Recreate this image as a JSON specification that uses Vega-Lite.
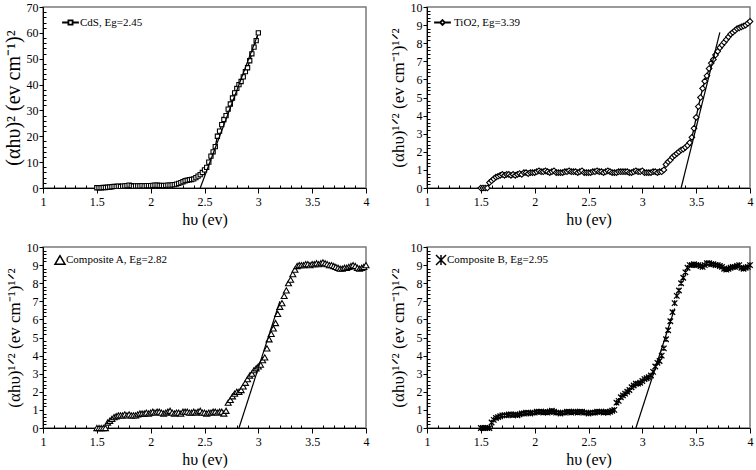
{
  "$schema": "https://vega.github.io/schema/vega-lite/v6.json",
  "background": "white",
  "padding": {"left": 2, "top": 0, "right": 2, "bottom": 0},
  "config": {
    "view": {"stroke": "#7a7a7a", "strokeWidth": 1.5},
    "font": "Liberation Serif",
    "style": {"guide-title": {"font": "Liberation Serif", "fontWeight": "normal", "fontSize": 16}, "guide-label": {"font": "Liberation Serif", "fontSize": 12}},
    "axis": {"labelFont": "Liberation Serif", "labelFontSize": 12, "labelColor": "black", "titleFont": "Liberation Serif", "titleFontSize": 16, "titleFontWeight": "normal", "titleColor": "black", "domainColor": "black", "domainWidth": 1, "tickColor": "black", "grid": false, "labelOverlap": false, "labelFlush": false},
    "axisY": {"titleFontSize": 17},
    "legend": {"labelFont": "Liberation Serif", "labelFontSize": 11, "labelColor": "black", "padding": 0}
  },
  "columns": 2,
  "spacing": {"row": 59, "column": 61},
  "bounds": "flush",
  "resolve": {"scale": {"x": "independent", "y": "independent", "shape": "independent", "color": "independent"}, "legend": {"shape": "independent", "color": "independent"}},
  "concat": [
    {
      "width": 323, "height": 181,
      "data": {"values": [
        {"x":1.50,"y":0.1},{"x":1.52,"y":0.1},{"x":1.54,"y":0.1},{"x":1.56,"y":0.2},{"x":1.58,"y":0.2},{"x":1.60,"y":0.3},{"x":1.62,"y":0.4},{"x":1.64,"y":0.5},{"x":1.66,"y":0.6},{"x":1.68,"y":0.6},
        {"x":1.70,"y":0.7},{"x":1.72,"y":0.6},{"x":1.74,"y":0.7},{"x":1.76,"y":0.8},{"x":1.78,"y":0.9},{"x":1.80,"y":1.1},{"x":1.82,"y":0.9},{"x":1.84,"y":0.7},{"x":1.86,"y":0.8},{"x":1.88,"y":0.8},
        {"x":1.90,"y":0.8},{"x":1.92,"y":0.9},{"x":1.94,"y":0.8},{"x":1.96,"y":0.9},{"x":1.98,"y":0.9},{"x":2.00,"y":0.9},{"x":2.02,"y":1.0},{"x":2.04,"y":1.1},{"x":2.06,"y":1.1},{"x":2.08,"y":1.0},
        {"x":2.10,"y":1.0},{"x":2.12,"y":0.9},{"x":2.14,"y":1.0},{"x":2.16,"y":1.1},{"x":2.18,"y":1.1},{"x":2.20,"y":1.2},{"x":2.22,"y":1.3},{"x":2.24,"y":1.5},{"x":2.26,"y":1.8},{"x":2.28,"y":2.1},
        {"x":2.30,"y":2.4},{"x":2.32,"y":2.8},{"x":2.34,"y":3.0},{"x":2.36,"y":3.2},{"x":2.38,"y":3.3},{"x":2.40,"y":3.5},{"x":2.42,"y":4.0},{"x":2.44,"y":4.6},{"x":2.46,"y":5.2},{"x":2.48,"y":6.0},
        {"x":2.50,"y":7.0},{"x":2.52,"y":8.0},{"x":2.54,"y":10.0},{"x":2.56,"y":12.3},{"x":2.58,"y":14.0},{"x":2.60,"y":16.0},{"x":2.62,"y":20.0},{"x":2.64,"y":22.0},{"x":2.66,"y":24.5},{"x":2.68,"y":26.5},
        {"x":2.70,"y":28.0},{"x":2.72,"y":30.5},{"x":2.74,"y":32.5},{"x":2.76,"y":34.8},{"x":2.78,"y":36.8},{"x":2.80,"y":38.5},{"x":2.82,"y":40.0},{"x":2.84,"y":41.2},{"x":2.86,"y":43.0},{"x":2.88,"y":45.0},
        {"x":2.90,"y":46.5},{"x":2.92,"y":49.2},{"x":2.94,"y":51.9},{"x":2.96,"y":54.5},{"x":2.98,"y":57.0},{"x":3.00,"y":60.0}
      ]},
      "encoding": {
        "x": {"field": "x", "type": "quantitative", "scale": {"domain": [1, 4], "nice": false, "zero": false},
          "axis": {"title": "hυ (ev)", "values": [1,1.1,1.2,1.3,1.4,1.5,1.6,1.7,1.8,1.9,2,2.1,2.2,2.3,2.4,2.5,2.6,2.7,2.8,2.9,3,3.1,3.2,3.3,3.4,3.5,3.6,3.7,3.8,3.9,4], "format": "~g",
            "labelExpr": "abs(datum.value*2-round(datum.value*2))<0.001 ? datum.label : ''",
            "tickSize": {"condition": {"test": "abs(datum.value*2-round(datum.value*2))<0.001", "value": 5}, "value": -3}, "labelPadding": 3, "titlePadding": 4}},
        "y": {"field": "y", "type": "quantitative", "scale": {"domain": [0, 70], "nice": false},
          "axis": {"title": "(αhυ)² (ev cm⁻¹)²", "titleFontSize": 20, "format": "~g", "values": [0,2,4,6,8,10,12,14,16,18,20,22,24,26,28,30,32,34,36,38,40,42,44,46,48,50,52,54,56,58,60,62,64,66,68,70],
            "labelExpr": "datum.value % 10 === 0 ? datum.label : ''",
            "tickSize": {"condition": {"test": "datum.value % 10 === 0", "value": 4}, "value": -3}, "labelPadding": 1, "titlePadding": 3}}
      },
      "layer": [
        {"mark": {"type": "line", "strokeWidth": 1.3},
          "encoding": {"color": {"datum": "CdS, Eg=2.45", "scale": {"range": ["black"]},
            "legend": {"orient": "top-left", "title": null, "offset": 10, "symbolOffset": 12, "labelOffset": 4,
              "symbolType": "M-2.8,0H-0.7M0.7,0H2.8M-0.7,-0.7H0.7V0.7H-0.7Z", "symbolSize": 36, "symbolStrokeWidth": 1.8, "symbolStrokeColor": "black", "symbolFillColor": "white"}}}},
        {"mark": {"type": "point", "shape": "square", "filled": false, "fill": "white", "stroke": "black", "strokeWidth": 1.1, "size": 18, "opacity": 1}},
        {"data": {"values": [{"x": 2.46, "y": 0}, {"x": 2.99, "y": 58.8}]}, "mark": {"type": "line", "color": "black", "strokeWidth": 1.2}}
      ]
    },
    {
      "width": 323, "height": 181,
      "data": {"values": [
        {"x":1.50,"y":0},{"x":1.52,"y":0},{"x":1.54,"y":0},{"x":1.56,"y":0},{"x":1.58,"y":0.3},{"x":1.60,"y":0.4},{"x":1.62,"y":0.5},{"x":1.64,"y":0.6},{"x":1.66,"y":0.65},{"x":1.68,"y":0.7},
        {"x":1.70,"y":0.75},{"x":1.72,"y":0.7},{"x":1.74,"y":0.75},{"x":1.76,"y":0.75},{"x":1.78,"y":0.7},{"x":1.80,"y":0.75},{"x":1.82,"y":0.7},{"x":1.84,"y":0.75},{"x":1.86,"y":0.8},{"x":1.88,"y":0.75},
        {"x":1.90,"y":0.85},{"x":1.92,"y":0.85},{"x":1.94,"y":0.8},{"x":1.96,"y":0.85},{"x":1.98,"y":0.85},{"x":2.00,"y":0.85},{"x":2.02,"y":0.9},{"x":2.04,"y":0.95},{"x":2.06,"y":0.9},{"x":2.08,"y":0.9},
        {"x":2.10,"y":0.95},{"x":2.12,"y":0.9},{"x":2.14,"y":0.85},{"x":2.16,"y":0.9},{"x":2.18,"y":0.95},{"x":2.20,"y":0.85},{"x":2.22,"y":0.85},{"x":2.24,"y":0.85},{"x":2.26,"y":0.85},{"x":2.28,"y":0.9},
        {"x":2.30,"y":0.9},{"x":2.32,"y":0.95},{"x":2.34,"y":0.9},{"x":2.36,"y":0.9},{"x":2.38,"y":0.9},{"x":2.40,"y":0.85},{"x":2.42,"y":0.9},{"x":2.44,"y":0.95},{"x":2.46,"y":0.85},{"x":2.48,"y":0.85},
        {"x":2.50,"y":0.85},{"x":2.52,"y":0.85},{"x":2.54,"y":0.9},{"x":2.56,"y":0.9},{"x":2.58,"y":0.95},{"x":2.60,"y":0.9},{"x":2.62,"y":0.9},{"x":2.64,"y":0.85},{"x":2.66,"y":0.9},{"x":2.68,"y":0.95},
        {"x":2.70,"y":0.9},{"x":2.72,"y":0.85},{"x":2.74,"y":0.85},{"x":2.76,"y":0.85},{"x":2.78,"y":0.9},{"x":2.80,"y":0.9},{"x":2.82,"y":0.9},{"x":2.84,"y":0.9},{"x":2.86,"y":0.9},{"x":2.88,"y":0.85},
        {"x":2.90,"y":0.85},{"x":2.92,"y":0.9},{"x":2.94,"y":0.95},{"x":2.96,"y":0.9},{"x":2.98,"y":0.9},{"x":3.00,"y":0.95},{"x":3.02,"y":0.85},{"x":3.04,"y":0.85},{"x":3.06,"y":0.85},{"x":3.08,"y":0.85},
        {"x":3.10,"y":0.9},{"x":3.12,"y":0.9},{"x":3.14,"y":0.85},{"x":3.16,"y":0.9},{"x":3.18,"y":0.9},{"x":3.20,"y":1.0},{"x":3.22,"y":1.3},{"x":3.24,"y":1.45},{"x":3.26,"y":1.55},{"x":3.28,"y":1.7},
        {"x":3.30,"y":1.8},{"x":3.32,"y":1.9},{"x":3.34,"y":2.0},{"x":3.36,"y":2.1},{"x":3.38,"y":2.15},{"x":3.40,"y":2.25},{"x":3.42,"y":2.35},{"x":3.44,"y":2.5},{"x":3.46,"y":2.8},{"x":3.48,"y":3.3},
        {"x":3.50,"y":3.9},{"x":3.52,"y":4.5},{"x":3.54,"y":5.0},{"x":3.56,"y":5.5},{"x":3.58,"y":5.9},{"x":3.60,"y":6.2},{"x":3.62,"y":6.6},{"x":3.64,"y":6.9},{"x":3.66,"y":7.1},{"x":3.68,"y":7.35},
        {"x":3.70,"y":7.55},{"x":3.72,"y":7.75},{"x":3.74,"y":7.9},{"x":3.76,"y":8.05},{"x":3.78,"y":8.2},{"x":3.80,"y":8.35},{"x":3.82,"y":8.5},{"x":3.84,"y":8.6},{"x":3.86,"y":8.7},{"x":3.88,"y":8.8},
        {"x":3.90,"y":8.85},{"x":3.92,"y":8.9},{"x":3.94,"y":8.95},{"x":3.96,"y":9.0},{"x":3.98,"y":9.1},{"x":4.00,"y":9.2}
      ]},
      "encoding": {
        "x": {"field": "x", "type": "quantitative", "scale": {"domain": [1, 4], "nice": false, "zero": false},
          "axis": {"title": "hυ (ev)", "values": [1,1.1,1.2,1.3,1.4,1.5,1.6,1.7,1.8,1.9,2,2.1,2.2,2.3,2.4,2.5,2.6,2.7,2.8,2.9,3,3.1,3.2,3.3,3.4,3.5,3.6,3.7,3.8,3.9,4], "format": "~g",
            "labelExpr": "abs(datum.value*2-round(datum.value*2))<0.001 ? datum.label : ''",
            "tickSize": {"condition": {"test": "abs(datum.value*2-round(datum.value*2))<0.001", "value": 5}, "value": -3}, "labelPadding": 3, "titlePadding": 4}},
        "y": {"field": "y", "type": "quantitative", "scale": {"domain": [0, 10], "nice": false},
          "axis": {"title": "(αhυ)¹ᐟ² (ev cm⁻¹)¹ᐟ²", "format": "~g", "values": [0,0.2,0.4,0.6,0.8,1,1.2,1.4,1.6,1.8,2,2.2,2.4,2.6,2.8,3,3.2,3.4,3.6,3.8,4,4.2,4.4,4.6,4.8,5,5.2,5.4,5.6,5.8,6,6.2,6.4,6.6,6.8,7,7.2,7.4,7.6,7.8,8,8.2,8.4,8.6,8.8,9,9.2,9.4,9.6,9.8,10],
            "labelExpr": "abs(datum.value-round(datum.value))<0.001 ? datum.label : ''",
            "tickSize": {"condition": {"test": "abs(datum.value-round(datum.value))<0.001", "value": 4}, "value": -3}, "labelPadding": 1, "titlePadding": 3}}
      },
      "layer": [
        {"mark": {"type": "line", "strokeWidth": 1.3},
          "encoding": {"color": {"datum": "TiO2, Eg=3.39", "scale": {"range": ["black"]},
            "legend": {"orient": "top-left", "title": null, "offset": 10, "symbolOffset": 0, "labelOffset": 6,
              "symbolType": "M-2.8,0H-0.8M0.8,0H2.8M0,-0.8L0.8,0L0,0.8L-0.8,0Z", "symbolSize": 36, "symbolStrokeWidth": 1.8, "symbolStrokeColor": "black", "symbolFillColor": "white"}}}},
        {"mark": {"type": "point", "shape": "diamond", "filled": false, "fill": "white", "stroke": "black", "strokeWidth": 1.1, "size": 32, "opacity": 1}},
        {"data": {"values": [{"x": 3.36, "y": 0}, {"x": 3.72, "y": 8.6}]}, "mark": {"type": "line", "color": "black", "strokeWidth": 1.2}}
      ]
    },
    {
      "width": 323, "height": 181,
      "data": {"values": [
        {"x":1.50,"y":0},{"x":1.52,"y":0},{"x":1.54,"y":0},{"x":1.56,"y":0},{"x":1.58,"y":0},{"x":1.60,"y":0.3},{"x":1.62,"y":0.4},{"x":1.64,"y":0.5},{"x":1.66,"y":0.6},{"x":1.68,"y":0.65},
        {"x":1.70,"y":0.7},{"x":1.72,"y":0.7},{"x":1.74,"y":0.7},{"x":1.76,"y":0.75},{"x":1.78,"y":0.7},{"x":1.80,"y":0.75},{"x":1.82,"y":0.7},{"x":1.84,"y":0.7},{"x":1.86,"y":0.7},{"x":1.88,"y":0.75},
        {"x":1.90,"y":0.8},{"x":1.92,"y":0.8},{"x":1.94,"y":0.8},{"x":1.96,"y":0.85},{"x":1.98,"y":0.8},{"x":2.00,"y":0.85},{"x":2.02,"y":0.9},{"x":2.04,"y":0.85},{"x":2.06,"y":0.9},{"x":2.08,"y":0.9},
        {"x":2.10,"y":0.85},{"x":2.12,"y":0.8},{"x":2.14,"y":0.85},{"x":2.16,"y":0.9},{"x":2.18,"y":0.95},{"x":2.20,"y":0.85},{"x":2.22,"y":0.8},{"x":2.24,"y":0.85},{"x":2.26,"y":0.85},{"x":2.28,"y":0.8},
        {"x":2.30,"y":0.9},{"x":2.32,"y":0.9},{"x":2.34,"y":0.9},{"x":2.36,"y":0.85},{"x":2.38,"y":0.85},{"x":2.40,"y":0.9},{"x":2.42,"y":0.85},{"x":2.44,"y":0.9},{"x":2.46,"y":0.95},{"x":2.48,"y":0.85},
        {"x":2.50,"y":0.85},{"x":2.52,"y":0.8},{"x":2.54,"y":0.85},{"x":2.56,"y":0.85},{"x":2.58,"y":0.9},{"x":2.60,"y":0.9},{"x":2.62,"y":0.85},{"x":2.64,"y":0.9},{"x":2.66,"y":0.9},{"x":2.68,"y":0.8},
        {"x":2.70,"y":0.95},{"x":2.72,"y":1.4},{"x":2.74,"y":1.55},{"x":2.76,"y":1.75},{"x":2.78,"y":1.9},{"x":2.80,"y":2.0},{"x":2.82,"y":2.0},{"x":2.84,"y":2.1},{"x":2.86,"y":2.3},{"x":2.88,"y":2.5},
        {"x":2.90,"y":2.7},{"x":2.92,"y":2.9},{"x":2.94,"y":3.0},{"x":2.96,"y":3.2},{"x":2.98,"y":3.3},{"x":3.00,"y":3.4},{"x":3.02,"y":3.5},{"x":3.04,"y":3.75},{"x":3.06,"y":3.9},{"x":3.08,"y":4.4},
        {"x":3.10,"y":4.9},{"x":3.12,"y":5.2},{"x":3.14,"y":5.5},{"x":3.16,"y":5.8},{"x":3.18,"y":6.3},{"x":3.20,"y":6.7},{"x":3.22,"y":6.9},{"x":3.24,"y":7.3},{"x":3.26,"y":7.6},{"x":3.28,"y":8.0},
        {"x":3.30,"y":8.2},{"x":3.32,"y":8.5},{"x":3.34,"y":8.75},{"x":3.36,"y":8.95},{"x":3.38,"y":9.0},{"x":3.40,"y":9.0},{"x":3.42,"y":9.0},{"x":3.44,"y":9.05},{"x":3.46,"y":9.05},{"x":3.48,"y":9.0},
        {"x":3.50,"y":9.05},{"x":3.52,"y":9.05},{"x":3.54,"y":9.1},{"x":3.56,"y":9.05},{"x":3.58,"y":9.1},{"x":3.60,"y":9.15},{"x":3.62,"y":9.1},{"x":3.64,"y":9.05},{"x":3.66,"y":9.0},{"x":3.68,"y":9.0},
        {"x":3.70,"y":8.95},{"x":3.72,"y":8.9},{"x":3.74,"y":8.85},{"x":3.76,"y":8.8},{"x":3.78,"y":8.8},{"x":3.80,"y":8.85},{"x":3.82,"y":8.85},{"x":3.84,"y":8.9},{"x":3.86,"y":8.95},{"x":3.88,"y":9.0},
        {"x":3.90,"y":8.95},{"x":3.92,"y":8.85},{"x":3.94,"y":8.8},{"x":3.96,"y":8.85},{"x":3.98,"y":8.9},{"x":4.00,"y":9.0}
      ]},
      "encoding": {
        "x": {"field": "x", "type": "quantitative", "scale": {"domain": [1, 4], "nice": false, "zero": false},
          "axis": {"title": "hυ (ev)", "values": [1,1.1,1.2,1.3,1.4,1.5,1.6,1.7,1.8,1.9,2,2.1,2.2,2.3,2.4,2.5,2.6,2.7,2.8,2.9,3,3.1,3.2,3.3,3.4,3.5,3.6,3.7,3.8,3.9,4], "format": "~g",
            "labelExpr": "abs(datum.value*2-round(datum.value*2))<0.001 ? datum.label : ''",
            "tickSize": {"condition": {"test": "abs(datum.value*2-round(datum.value*2))<0.001", "value": 5}, "value": -3}, "labelPadding": 3, "titlePadding": 4}},
        "y": {"field": "y", "type": "quantitative", "scale": {"domain": [0, 10], "nice": false},
          "axis": {"title": "(αhυ)¹ᐟ² (ev cm⁻¹)¹ᐟ²", "format": "~g", "values": [0,0.2,0.4,0.6,0.8,1,1.2,1.4,1.6,1.8,2,2.2,2.4,2.6,2.8,3,3.2,3.4,3.6,3.8,4,4.2,4.4,4.6,4.8,5,5.2,5.4,5.6,5.8,6,6.2,6.4,6.6,6.8,7,7.2,7.4,7.6,7.8,8,8.2,8.4,8.6,8.8,9,9.2,9.4,9.6,9.8,10],
            "labelExpr": "abs(datum.value-round(datum.value))<0.001 ? datum.label : ''",
            "tickSize": {"condition": {"test": "abs(datum.value-round(datum.value))<0.001", "value": 4}, "value": -3}, "labelPadding": 1, "titlePadding": 3}}
      },
      "layer": [
        {"mark": {"type": "point", "filled": false, "fill": "white", "stroke": "black", "strokeWidth": 1.1, "size": 36, "opacity": 1},
          "encoding": {"shape": {"datum": "Composite A, Eg=2.82", "scale": {"range": ["triangle-up"]},
            "legend": {"orient": "top-left", "title": null, "offset": 7, "symbolOffset": 4, "labelOffset": 0,
              "encode": {"symbols": {"update": {"size": {"value": 30}, "stroke": {"value": "black"}, "fill": {"value": "white"}, "strokeWidth": {"value": 1.6}, "opacity": {"value": 1}}}}}}}},
        {"data": {"values": [{"x": 2.82, "y": 0}, {"x": 3.2, "y": 7.0}]}, "mark": {"type": "line", "color": "black", "strokeWidth": 1.2}}
      ]
    },
    {
      "width": 323, "height": 181,
      "data": {"values": [
        {"x":1.50,"y":0},{"x":1.52,"y":0},{"x":1.54,"y":0},{"x":1.56,"y":0},{"x":1.58,"y":0},{"x":1.60,"y":0.3},{"x":1.62,"y":0.45},{"x":1.64,"y":0.55},{"x":1.66,"y":0.6},{"x":1.68,"y":0.65},
        {"x":1.70,"y":0.7},{"x":1.72,"y":0.7},{"x":1.74,"y":0.7},{"x":1.76,"y":0.75},{"x":1.78,"y":0.75},{"x":1.80,"y":0.7},{"x":1.82,"y":0.75},{"x":1.84,"y":0.7},{"x":1.86,"y":0.75},{"x":1.88,"y":0.8},
        {"x":1.90,"y":0.8},{"x":1.92,"y":0.85},{"x":1.94,"y":0.85},{"x":1.96,"y":0.8},{"x":1.98,"y":0.85},{"x":2.00,"y":0.85},{"x":2.02,"y":0.9},{"x":2.04,"y":0.9},{"x":2.06,"y":0.9},{"x":2.08,"y":0.85},
        {"x":2.10,"y":0.9},{"x":2.12,"y":0.85},{"x":2.14,"y":0.9},{"x":2.16,"y":0.95},{"x":2.18,"y":0.9},{"x":2.20,"y":0.85},{"x":2.22,"y":0.85},{"x":2.24,"y":0.8},{"x":2.26,"y":0.85},{"x":2.28,"y":0.85},
        {"x":2.30,"y":0.9},{"x":2.32,"y":0.9},{"x":2.34,"y":0.85},{"x":2.36,"y":0.9},{"x":2.38,"y":0.9},{"x":2.40,"y":0.85},{"x":2.42,"y":0.9},{"x":2.44,"y":0.9},{"x":2.46,"y":0.85},{"x":2.48,"y":0.85},
        {"x":2.50,"y":0.8},{"x":2.52,"y":0.85},{"x":2.54,"y":0.85},{"x":2.56,"y":0.85},{"x":2.58,"y":0.9},{"x":2.60,"y":0.9},{"x":2.62,"y":0.9},{"x":2.64,"y":0.85},{"x":2.66,"y":0.9},{"x":2.68,"y":0.85},
        {"x":2.70,"y":0.9},{"x":2.72,"y":0.95},{"x":2.74,"y":1.0},{"x":2.76,"y":1.4},{"x":2.78,"y":1.5},{"x":2.80,"y":1.7},{"x":2.82,"y":1.8},{"x":2.84,"y":1.9},{"x":2.86,"y":2.0},{"x":2.88,"y":2.1},
        {"x":2.90,"y":2.25},{"x":2.92,"y":2.35},{"x":2.94,"y":2.45},{"x":2.96,"y":2.45},{"x":2.98,"y":2.5},{"x":3.00,"y":2.6},{"x":3.02,"y":2.7},{"x":3.04,"y":2.75},{"x":3.06,"y":2.8},{"x":3.08,"y":2.9},
        {"x":3.10,"y":3.1},{"x":3.12,"y":3.4},{"x":3.14,"y":3.6},{"x":3.16,"y":3.7},{"x":3.18,"y":4.0},{"x":3.20,"y":4.4},{"x":3.22,"y":4.9},{"x":3.24,"y":5.4},{"x":3.26,"y":5.9},{"x":3.28,"y":6.4},
        {"x":3.30,"y":6.9},{"x":3.32,"y":7.3},{"x":3.34,"y":7.6},{"x":3.36,"y":8.0},{"x":3.38,"y":8.3},{"x":3.40,"y":8.6},{"x":3.42,"y":8.85},{"x":3.44,"y":9.0},{"x":3.46,"y":9.0},{"x":3.48,"y":9.05},
        {"x":3.50,"y":9.0},{"x":3.52,"y":9.0},{"x":3.54,"y":8.95},{"x":3.56,"y":8.9},{"x":3.58,"y":9.0},{"x":3.60,"y":9.1},{"x":3.62,"y":9.1},{"x":3.64,"y":9.05},{"x":3.66,"y":9.05},{"x":3.68,"y":9.0},
        {"x":3.70,"y":9.0},{"x":3.72,"y":8.95},{"x":3.74,"y":8.9},{"x":3.76,"y":8.8},{"x":3.78,"y":8.75},{"x":3.80,"y":8.8},{"x":3.82,"y":8.85},{"x":3.84,"y":8.9},{"x":3.86,"y":8.9},{"x":3.88,"y":8.95},
        {"x":3.90,"y":9.0},{"x":3.92,"y":8.85},{"x":3.94,"y":8.8},{"x":3.96,"y":8.85},{"x":3.98,"y":8.9},{"x":4.00,"y":9.0}
      ]},
      "encoding": {
        "x": {"field": "x", "type": "quantitative", "scale": {"domain": [1, 4], "nice": false, "zero": false},
          "axis": {"title": "hυ (ev)", "values": [1,1.1,1.2,1.3,1.4,1.5,1.6,1.7,1.8,1.9,2,2.1,2.2,2.3,2.4,2.5,2.6,2.7,2.8,2.9,3,3.1,3.2,3.3,3.4,3.5,3.6,3.7,3.8,3.9,4], "format": "~g",
            "labelExpr": "abs(datum.value*2-round(datum.value*2))<0.001 ? datum.label : ''",
            "tickSize": {"condition": {"test": "abs(datum.value*2-round(datum.value*2))<0.001", "value": 5}, "value": -3}, "labelPadding": 3, "titlePadding": 4}},
        "y": {"field": "y", "type": "quantitative", "scale": {"domain": [0, 10], "nice": false},
          "axis": {"title": "(αhυ)¹ᐟ² (ev cm⁻¹)¹ᐟ²", "format": "~g", "values": [0,0.2,0.4,0.6,0.8,1,1.2,1.4,1.6,1.8,2,2.2,2.4,2.6,2.8,3,3.2,3.4,3.6,3.8,4,4.2,4.4,4.6,4.8,5,5.2,5.4,5.6,5.8,6,6.2,6.4,6.6,6.8,7,7.2,7.4,7.6,7.8,8,8.2,8.4,8.6,8.8,9,9.2,9.4,9.6,9.8,10],
            "labelExpr": "abs(datum.value-round(datum.value))<0.001 ? datum.label : ''",
            "tickSize": {"condition": {"test": "abs(datum.value-round(datum.value))<0.001", "value": 4}, "value": -3}, "labelPadding": 1, "titlePadding": 3}}
      },
      "layer": [
        {"mark": {"type": "point", "filled": false, "stroke": "black", "strokeWidth": 1.3, "size": 30, "opacity": 1},
          "encoding": {"shape": {"datum": "Composite B, Eg=2.95", "scale": {"range": ["M-1,-1L1,1M-1,1L1,-1M0,-1L0,1"]},
            "legend": {"orient": "top-left", "title": null, "offset": 7, "symbolOffset": 1, "labelOffset": 0,
              "encode": {"symbols": {"update": {"stroke": {"value": "black"}, "strokeWidth": {"value": 1.8}, "size": {"value": 30}, "opacity": {"value": 1}}}}}}}},
        {"data": {"values": [{"x": 2.94, "y": 0}, {"x": 3.3, "y": 6.6}]}, "mark": {"type": "line", "color": "black", "strokeWidth": 1.2}}
      ]
    }
  ]
}
